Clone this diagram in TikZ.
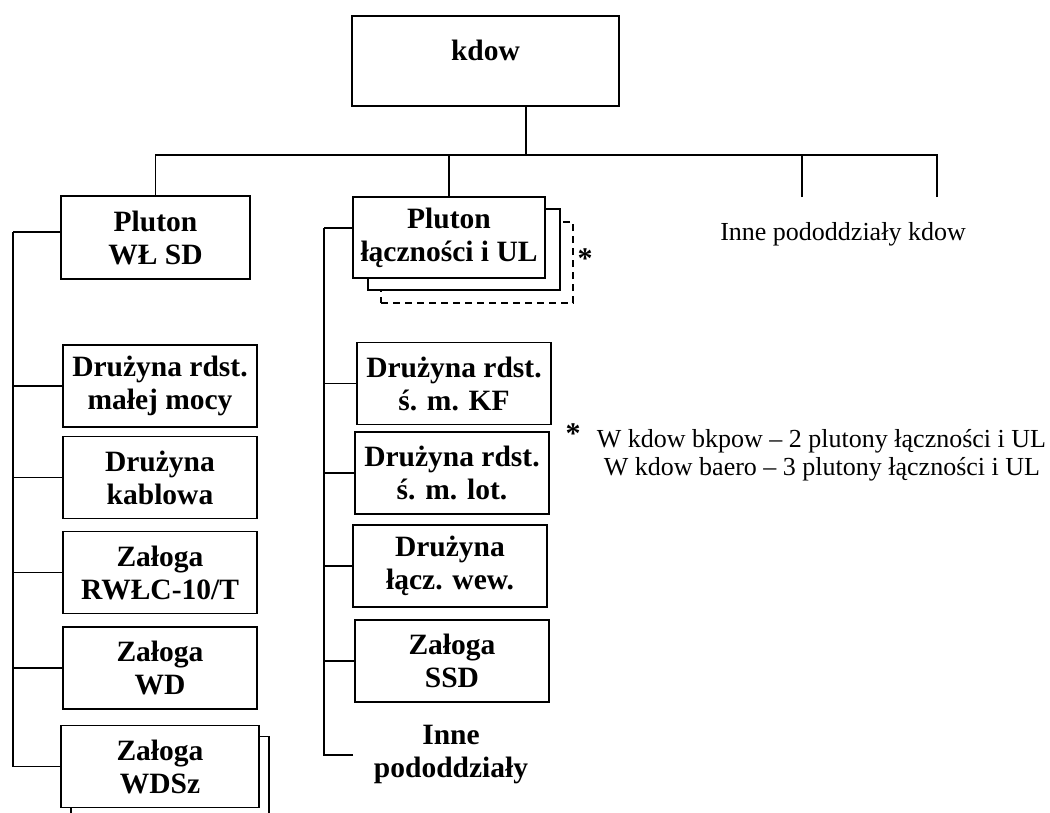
\documentclass[tikz,border=0pt]{standalone}
\usepackage{fontspec}
\setmainfont{Liberation Serif}
\usetikzlibrary{positioning}
\tikzset{
  unit/.style={draw, line width=1.8pt, fill=white, minimum width=194pt, minimum height=82pt,
    inner sep=0pt, align=center, font=\bfseries\fontsize{29.5}{33}\selectfont},
  ghost/.style={unit, draw=none, fill=none},
  star/.style={font=\bfseries\fontsize{30}{33}\selectfont, inner sep=0pt, anchor=base},
  note/.style={font=\fontsize{26}{28}\selectfont, inner sep=0pt},
  link/.style={line width=1.8pt}
}

\begin{document}
\begin{tikzpicture}[x=1pt, y=-1pt, link]
\useasboundingbox (0,0) rectangle (1050,812);
\node[unit, minimum width=267pt, minimum height=90pt] (kdow) at (485.5,61) {\raisebox{1pt}[0pt][0pt]{kdow}};
\node[unit, minimum width=189pt, minimum height=83pt] (wlsd) at (155.5,237.5) {Pluton\\WŁ SD};
\node[unit, dashed, dash pattern=on 7pt off 5pt, minimum width=192pt, minimum height=81pt] (laczB) at (477,262.5) {};
\node[unit, minimum width=192pt, minimum height=81pt] (laczA) at (464,249.5) {};
\node[unit, minimum width=192pt, minimum height=81pt] (lacz) at (449,237.5) {Pluton\\łączności i UL};
\node[star] (gw1) at (585,268) {*};
\node[note, anchor=base] (innekdow) at (843,240) {Inne pododdziały kdow};
\node[unit] (mala) at (160,386) {Drużyna rdst.\\małej mocy};
\node[unit] (kabl) at (160,477.5) {Drużyna\\kablowa};
\node[unit] (rwlc) at (160,572.5) {Załoga\\RWŁC-10/T};
\node[unit] (wd) at (160,668) {Załoga\\WD};
\node[unit, minimum width=198pt] (wdszB) at (170,777.5) {};
\node[unit, minimum width=198pt] (wdsz) at (160,766.5) {Załoga\\WDSz};
\node[unit] (kf) at (454,383.5) {Drużyna rdst.\\ś. m. KF};
\node[unit] (lot) at (452,473) {Drużyna rdst.\\ś. m. lot.};
\node[unit] (wew) at (450,566) {Drużyna\\łącz. wew.};
\node[unit] (ssd) at (452,661) {Załoga\\SSD};
\node[ghost] (inne) at (451,755) {Inne\\pododdziały};
\node[star] (gw2) at (573,443) {*};
\node[note, anchor=base west] (note1) at (596,447) {W kdow bkpow – 2 plutony łączności i UL};
\node[note, anchor=base west] (note2) at (603,475) {W kdow baero – 3 plutony łączności i UL};
\coordinate (bus) at (526,155);
\coordinate (inneA) at (802,197);
\coordinate (inneB) at (937,197);
\coordinate (lv) at (13,232);
\coordinate (mv) at (324,228);
\draw (kdow.south -| bus) -- (bus);
\draw (wlsd.north) |- (bus);
\draw (lacz.north) |- (bus);
\draw (inneA) |- (bus);
\draw (inneB) |- (bus);
\draw (lv -| wlsd.west) -- (lv);
\draw (mala.west) -| (lv);
\draw (kabl.west) -| (lv);
\draw (rwlc.west) -| (lv);
\draw (wd.west) -| (lv);
\draw (wdsz.west) -| (lv);
\draw (mv -| lacz.west) -- (mv);
\draw (kf.west) -| (mv);
\draw (lot.west) -| (mv);
\draw (wew.west) -| (mv);
\draw (ssd.west) -| (mv);
\draw (inne.west) -| (mv);
\end{tikzpicture}
\end{document}
